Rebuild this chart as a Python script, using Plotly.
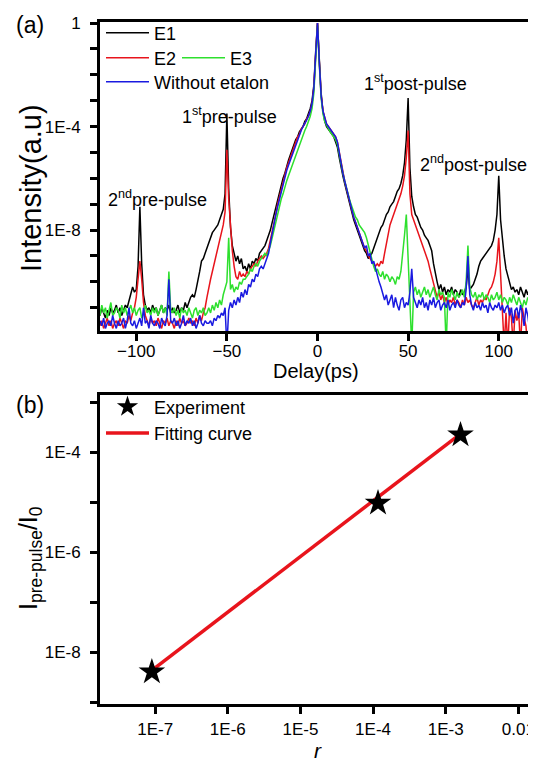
import plotly.graph_objects as go

# the page body keeps an 8px margin, so the figure is sized to fit inside it
OFF = 8
W, H = 536 - OFF, 762 - OFF
FONT = "Liberation Sans, Arial, sans-serif"

# ---- panel (a): intensity vs delay, values stored as log10(intensity) ----
delay = list(range(-120, 121))

e1_log = [
    -11.3, -11.0, -11.2, -11.4, -11.1, -11.3, -11.0, -11.2, -11.1, -10.9,
    -11.2, -11.0, -11.3, -11.1, -10.9, -11.0, -10.7, -10.5, -10.2, -10.4,
    -10.3, -9.4, -7.1, -9.3, -10.5, -10.9, -11.1, -11.0, -11.2, -10.9,
    -11.1, -11.0, -11.3, -11.1, -10.9, -11.2, -11.0, -11.1, -10.9, -11.2,
    -11.0, -11.2, -11.1, -10.9, -11.2, -11.0, -11.1, -10.8, -11.0, -10.8,
    -10.6, -10.5, -10.6, -10.3, -10.0, -9.6, -9.2, -9.1, -8.9, -8.7,
    -8.5, -8.3, -8.1, -8.0, -7.9, -7.8, -7.6, -7.4, -7.2, -6.6,
    -3.5, -6.4, -7.9, -8.6, -8.9, -9.2, -9.0, -9.3, -9.1, -9.5,
    -9.4, -9.6, -9.3, -9.5, -9.2, -9.3, -9.1, -9.2, -8.9, -8.8,
    -8.7, -8.6, -8.4, -8.2, -8.0, -7.7, -7.4, -7.1, -6.9, -6.6,
    -6.3, -6.0, -5.8, -5.5, -5.3, -5.1, -4.9, -4.7, -4.5, -4.4,
    -4.2, -4.1, -4.0, -3.8, -3.7, -3.5, -3.3, -3.0, -2.4, -1.1,
    0.0,
    -1.4, -2.7, -3.4, -3.8, -4.0, -4.1, -4.2, -4.3, -4.4, -4.6,
    -4.8, -5.2, -5.6, -5.9, -6.2, -6.5, -6.8, -7.1, -7.4, -7.6,
    -7.8, -8.0, -8.2, -8.4, -8.6, -8.8, -8.9, -9.1, -9.0, -8.9,
    -8.7, -8.5, -8.3, -8.1, -7.9, -7.8, -7.6, -7.4, -7.3, -7.1,
    -7.0, -6.9, -6.7, -6.5, -6.4, -6.2, -5.9, -5.4, -4.5, -2.9,
    -5.6, -6.7, -7.1, -7.4, -7.5, -7.7, -7.9, -8.0, -8.2, -8.3,
    -8.4, -8.6, -8.8, -9.3, -9.7, -10.0, -10.3, -10.1, -10.4, -10.2,
    -10.5, -10.3, -10.4, -10.2, -10.5, -10.3, -10.4, -10.6, -10.3, -10.5,
    -10.4, -10.2, -9.5, -10.3, -10.2, -10.1, -9.9, -9.7, -9.4, -9.2,
    -9.1, -9.0, -8.9, -8.8, -8.7, -8.6, -8.4, -8.0, -7.4, -5.9,
    -7.6, -8.4, -9.0, -9.5, -9.8, -10.1, -10.3, -10.2, -10.4, -10.3,
    -10.5, -10.2, -10.4, -10.6, -10.3, -10.5, -10.2, -10.4, -10.6, -10.3,
]

e2_log = [
    -11.7, -11.5, -11.8, -11.6, -11.4, -11.7, -11.5, -11.8, -11.6, -11.5,
    -11.7, -11.4, -11.6, -11.8, -11.5, -11.6, -11.3, -11.5, -11.2, -11.0,
    -10.6, -9.9, -9.2, -9.9, -10.8, -11.3, -11.5, -11.7, -11.4, -11.6,
    -11.5, -11.7, -11.4, -11.6, -11.8, -11.5, -11.6, -11.4, -11.7, -11.5,
    -11.6, -11.8, -11.5, -11.7, -11.4, -11.6, -11.5, -11.7, -11.6, -11.4,
    -11.6, -11.5, -11.7, -11.4, -11.6, -11.3, -11.5, -11.2, -11.0, -10.6,
    -10.2, -9.9, -9.6, -9.3, -9.0, -8.7, -8.4, -8.1, -7.8, -7.3,
    -4.9, -6.8, -8.0, -8.8, -9.4, -9.8, -9.9, -9.6, -9.8, -9.7,
    -9.8, -9.6, -9.7, -9.5, -9.4, -9.3, -9.4, -9.2, -9.1, -9.0,
    -9.1, -9.0, -8.9, -8.7, -8.4, -8.1, -7.8, -7.4, -7.0, -6.7,
    -6.4, -6.1, -5.8, -5.6, -5.4, -5.2, -5.0, -4.8, -4.6, -4.4,
    -4.3, -4.1, -4.0, -3.9, -3.7, -3.6, -3.4, -3.1, -2.5, -1.2,
    0.0,
    -1.5, -2.8, -3.4, -3.7, -3.9, -4.0, -4.1, -4.2, -4.3, -4.4,
    -4.6, -5.0, -5.4, -5.8, -6.1, -6.4, -6.7, -7.0, -7.3, -7.5,
    -7.7, -7.9, -8.1, -8.3, -8.5, -8.7, -8.8, -9.0, -9.1, -9.2,
    -9.3, -9.4, -9.3, -9.4, -9.2, -9.3, -8.9, -8.5, -8.1, -7.8,
    -7.6, -7.4, -7.2, -7.0, -6.8, -6.6, -6.3, -5.9, -5.2, -4.15,
    -6.6, -7.4, -7.6, -7.8, -8.0, -8.2, -8.4, -8.6, -8.8, -9.0,
    -9.2, -9.5, -9.8, -10.1, -10.3, -10.6, -10.4, -10.7, -10.5, -10.8,
    -10.6, -10.9, -10.7, -10.8, -10.6, -10.9, -10.7, -10.8, -11.0, -10.7,
    -10.9, -10.6, -10.8, -10.7, -10.9, -11.0, -10.8, -10.6, -10.9, -10.7,
    -10.8, -10.6, -10.7, -10.5, -10.3, -10.2, -10.0, -9.7, -9.2, -8.3,
    -9.5, -10.6, -12.5, -11.2, -12.5, -11.0, -11.4, -12.5, -11.1, -11.5,
    -11.2, -12.5, -11.0, -11.4, -11.7, -12.5, -11.3, -11.6, -12.5, -11.2,
]

e3_log = [
    -11.3, -10.9, -11.2, -11.0, -11.4, -11.1, -10.8, -11.3, -11.2, -11.0,
    -11.1, -11.4, -10.9, -11.2, -11.0, -11.3, -11.1, -10.9, -11.2, -11.0,
    -11.3, -11.1, -11.0, -11.4, -11.2, -10.9, -11.2, -11.1, -11.3, -11.0,
    -11.2, -11.0, -11.3, -11.1, -10.9, -11.2, -11.0, -11.3, -9.6, -11.1,
    -11.2, -11.0, -11.3, -11.1, -11.4, -11.0, -11.2, -11.1, -11.3, -11.0,
    -11.2, -11.4, -11.1, -11.0, -11.3, -11.1, -11.2, -11.0, -11.3, -11.2,
    -11.0, -11.2, -10.9, -11.1, -10.8, -11.0, -10.7, -10.9, -10.5, -10.2,
    -10.0, -8.3, -10.3, -10.1, -10.4, -10.2, -10.3, -10.0, -10.1, -9.9,
    -9.9, -9.8, -9.7, -9.5, -9.6, -9.4, -9.3, -9.4, -9.2, -9.1,
    -9.0, -8.9, -9.0, -8.8, -8.6, -8.3, -8.0, -7.6, -7.3, -7.0,
    -6.8, -6.6, -6.3, -6.1, -5.9, -5.7, -5.5, -5.3, -5.1, -4.9,
    -4.7, -4.5, -4.3, -4.15, -4.0, -3.8, -3.6, -3.3, -2.7, -1.4,
    -0.1,
    -1.6, -2.9, -3.5, -3.8, -3.95, -4.1, -4.2, -4.3, -4.4, -4.5,
    -4.7, -5.1, -5.5, -5.8, -6.1, -6.4, -6.6, -6.9, -7.1, -7.3,
    -7.5, -7.6, -7.8, -7.9, -8.0, -8.1, -8.3, -8.6, -8.9, -9.2,
    -9.4, -9.6, -9.5, -9.7, -9.8, -9.6, -9.9, -9.7, -9.8, -10.0,
    -9.8, -9.9, -10.1, -9.8, -9.9, -9.6, -9.0, -8.2, -7.4, -9.3,
    -10.6, -12.5, -10.4, -10.2, -10.5, -10.3, -10.6, -10.4, -10.2, -10.5,
    -10.3, -10.6, -10.4, -10.2, -10.5, -10.7, -10.3, -10.5, -10.4, -10.6,
    -12.5, -10.4, -10.6, -10.3, -10.5, -10.7, -10.4, -10.6, -10.5, -10.3,
    -10.6, -10.0, -8.6, -10.2, -10.5, -10.6, -10.4, -10.7, -10.5, -10.6,
    -10.4, -10.7, -10.5, -10.6, -10.8, -10.5, -10.7, -10.6, -10.4, -10.7,
    -10.5, -10.8, -10.6, -10.7, -10.9, -10.6, -10.8, -10.5, -10.7, -10.9,
    -10.6, -10.8, -11.0, -10.7, -10.9, -10.6, -10.8, -11.0, -10.7, -10.9,
]

no_etalon_log = [
    -11.5, -11.7, -11.4, -11.8, -11.6, -11.5, -11.7, -11.3, -11.6, -11.8,
    -11.5, -11.7, -11.6, -11.4, -11.8, -11.5, -11.0, -11.6, -11.7, -11.5,
    -11.8, -11.6, -11.4, -11.7, -11.0, -11.6, -11.5, -11.8, -11.3, -11.6,
    -11.7, -11.5, -11.6, -11.8, -11.4, -11.6, -11.7, -11.3, -9.9, -11.5,
    -11.6, -11.4, -11.7, -11.5, -11.8, -11.6, -11.3, -11.7, -11.5, -11.6,
    -11.4, -11.7, -11.5, -11.8, -11.6, -11.3, -11.6, -11.7, -11.5, -11.6,
    -11.6, -11.5, -11.7, -11.4, -11.5, -11.3, -11.4, -11.2, -11.3, -11.0,
    -12.5, -11.1, -10.8, -11.0, -10.7, -10.9, -10.6, -10.8, -10.4, -10.6,
    -10.3, -10.5, -10.1, -10.2, -9.9, -10.0, -9.7, -9.8, -9.5, -9.4,
    -9.5, -9.3, -9.1, -8.9, -8.5, -8.1, -7.7, -7.4, -7.1, -6.8,
    -6.5, -6.2, -5.9, -5.7, -5.5, -5.3, -5.1, -4.9, -4.7, -4.5,
    -4.3, -4.15, -4.0, -3.9, -3.75, -3.6, -3.4, -3.1, -2.5, -1.2,
    0.0,
    -1.5, -2.8, -3.4, -3.7, -3.9, -4.0, -4.1, -4.2, -4.3, -4.4,
    -4.6, -5.0, -5.5, -5.8, -6.1, -6.4, -6.7, -7.0, -7.3, -7.5,
    -7.7, -7.9, -8.1, -8.3, -8.5, -8.7, -8.6, -9.0, -8.9, -9.3,
    -9.2, -9.5, -9.8, -10.0, -10.2, -10.5, -10.7, -10.5, -10.9, -10.7,
    -10.5, -11.0, -10.6, -10.9, -11.1, -10.7, -10.6, -11.0, -10.8, -10.9,
    -10.4, -9.5, -10.6, -10.8, -11.0, -10.7, -10.9, -10.6, -11.0, -10.8,
    -11.1, -10.7, -10.9, -10.6, -11.0, -10.8, -10.7, -11.1, -10.9, -10.8,
    -11.0, -10.7, -11.1, -10.9, -10.8, -11.0, -10.7, -10.9, -11.0, -10.8,
    -10.9, -10.3, -9.0, -10.5, -10.9, -11.1, -10.8, -11.0, -10.9, -11.1,
    -10.8, -11.0, -10.9, -11.2, -10.8, -11.0, -11.1, -10.9, -11.0, -10.8,
    -11.1, -10.9, -11.2, -11.0, -10.9, -11.3, -11.0, -11.6, -11.1, -11.0,
    -11.4, -10.9, -11.2, -11.7, -11.0, -11.3, -11.8, -11.1, -11.2, -11.4,
]

for s in (e1_log, e2_log, e3_log, no_etalon_log):
    assert len(s) == len(delay), len(s)

# ---- panel (b): pre-pulse contrast vs reflectivity ----
exp_r = [9.0e-8, 1.17e-4, 1.6e-3]
exp_ratio = [4.0e-9, 9.5e-6, 2.2e-4]
fit_r = [9.0e-8, 1.6e-3]
fit_ratio = [4.3e-9, 2.3e-4]

a_yticks = [1.0, 1e-4, 1e-8]
a_ylabels = ["1", "1E-4", "1E-8"]
a_yminor = [1e-1, 1e-2, 1e-3, 1e-5, 1e-6, 1e-7, 1e-9, 1e-10, 1e-11]
b_xticks = [1e-7, 1e-6, 1e-5, 1e-4, 1e-3, 1e-2]
b_xlabels = ["1E-7", "1E-6", "1E-5", "1E-4", "1E-3", "0.01"]
b_yticks = [1e-4, 1e-6, 1e-8]
b_ylabels = ["1E-4", "1E-6", "1E-8"]
b_yminor = [1e-3, 1e-5, 1e-7, 1e-9]


# positions below are given in page pixels (as measured on the reference)
def px_x(p):
    return (p - OFF) / W


def px_y(p):
    return 1 - (p - OFF) / H


fig = go.Figure()

series = [
    ("E1", e1_log, "#000000", "legend"),
    ("E2", e2_log, "#e8141c", "legend2"),
    ("E3", e3_log, "#2ee02e", "legend2"),
    ("Without etalon", no_etalon_log, "#1a1ae0", "legend3"),
]
for name, vals, col, leg in series:
    fig.add_trace(go.Scatter(
        x=delay, y=[10.0 ** v for v in vals], mode="lines", name=name,
        line=dict(color=col, width=1.5), legend=leg,
        xaxis="x", yaxis="y",
    ))

fig.add_trace(go.Scatter(
    x=fit_r, y=fit_ratio, mode="lines", name="Fitting curve",
    line=dict(color="#e8141c", width=3.5), legend="legend4", legendrank=2,
    xaxis="x2", yaxis="y2",
))
fig.add_trace(go.Scatter(
    x=exp_r, y=exp_ratio, mode="markers", name="Experiment",
    marker=dict(symbol="star", size=20, color="black"),
    legend="legend4", legendrank=1, xaxis="x2", yaxis="y2",
))

minor_ticks = dict(ticks="outside", ticklen=7, tickwidth=3, tickcolor="black",
                   showgrid=False)
axis_common = dict(
    showline=True, linecolor="black", linewidth=3, mirror=True,
    ticks="outside", ticklen=7, tickwidth=3, tickcolor="black",
    showgrid=False, zeroline=False, automargin=False,
    tickfont=dict(family=FONT, size=17, color="black"),
)
xdom = [px_x(100), px_x(535)]

leg_common = dict(
    bgcolor="rgba(0,0,0,0)", font=dict(family=FONT, size=18, color="black"),
    xanchor="left", yanchor="middle", itemwidth=43, tracegroupgap=0,
    itemclick=False,
)

fig.update_layout(
    width=W, height=H,
    margin=dict(l=0, r=0, t=0, b=0, autoexpand=False),
    paper_bgcolor="white", plot_bgcolor="white",
    font=dict(family=FONT, color="black"),
    xaxis=dict(axis_common, domain=xdom, range=[-120, 120], anchor="y",
               tickvals=[-100, -50, 0, 50, 100], ticklabelstandoff=-4),
    yaxis=dict(axis_common, type="log", domain=[px_y(331), px_y(22)],
               range=[-11.9, 0.04], anchor="x", ticklabelstandoff=6,
               tickvals=a_yticks, ticktext=a_ylabels,
               minor=dict(minor_ticks, tickvals=a_yminor)),
    xaxis2=dict(axis_common, type="log", domain=xdom, range=[-7.76, -1.77],
                anchor="y2", tickvals=b_xticks, ticktext=b_xlabels,
                ticklabelstandoff=1),
    yaxis2=dict(axis_common, type="log", domain=[px_y(704), px_y(395)],
                range=[-9.04, -2.86], anchor="x2", ticklabelstandoff=6,
                tickvals=b_yticks, ticktext=b_ylabels,
                minor=dict(minor_ticks, tickvals=b_yminor)),
    yaxis3=dict(type="log", overlaying="y2", side="right", anchor="x2",
                range=[-9.04, -2.86], showline=False, showgrid=False,
                zeroline=False, ticks="inside", ticklen=7, tickwidth=3,
                tickcolor="black", tickvals=b_yticks + b_yminor,
                showticklabels=False, automargin=False),
    legend=dict(leg_common, x=px_x(101), y=px_y(33)),
    legend2=dict(leg_common, x=px_x(101), y=px_y(58), orientation="h",
                 entrywidth=18),
    legend3=dict(leg_common, x=px_x(101), y=px_y(82)),
    legend4=dict(leg_common, x=px_x(101), y=px_y(420)),
    showlegend=True,
)

ann_font = dict(family=FONT, size=18, color="black")
annotations = [
    dict(text="2<sup>nd</sup>pre-pulse", x=-88.5, y=-6.77),
    dict(text="1<sup>st</sup>pre-pulse", x=-48.3, y=-3.58),
    dict(text="1<sup>st</sup>post-pulse", x=53.8, y=-2.3),
    dict(text="2<sup>nd</sup>post-pulse", x=86.3, y=-5.42),
]
for a in annotations:
    fig.add_annotation(showarrow=False, font=ann_font, xref="x", yref="y",
                       xanchor="center", yanchor="middle", **a)

# panel letters and axis titles, placed in page pixels
labels = [
    dict(text="(a)", x=30, y=25, size=23, angle=0),
    dict(text="(b)", x=30, y=405, size=23, angle=0),
    dict(text="Delay(ps)", x=316, y=371, size=20, angle=0),
    dict(text="Intensity(a.u)", x=31, y=188, size=29, angle=-90),
    dict(text="I<sub>pre-pulse</sub>/I<sub>0</sub>", x=30, y=558, size=25,
         angle=-90),
    dict(text="<i>r</i>", x=318, y=750, size=21, angle=0),
]
for lb in labels:
    fig.add_annotation(text=lb["text"], x=px_x(lb["x"]), y=px_y(lb["y"]),
                       xref="paper", yref="paper", xanchor="center",
                       yanchor="middle", showarrow=False, textangle=lb["angle"],
                       font=dict(family=FONT, size=lb["size"], color="black"))

fig.write_html("out.html")
